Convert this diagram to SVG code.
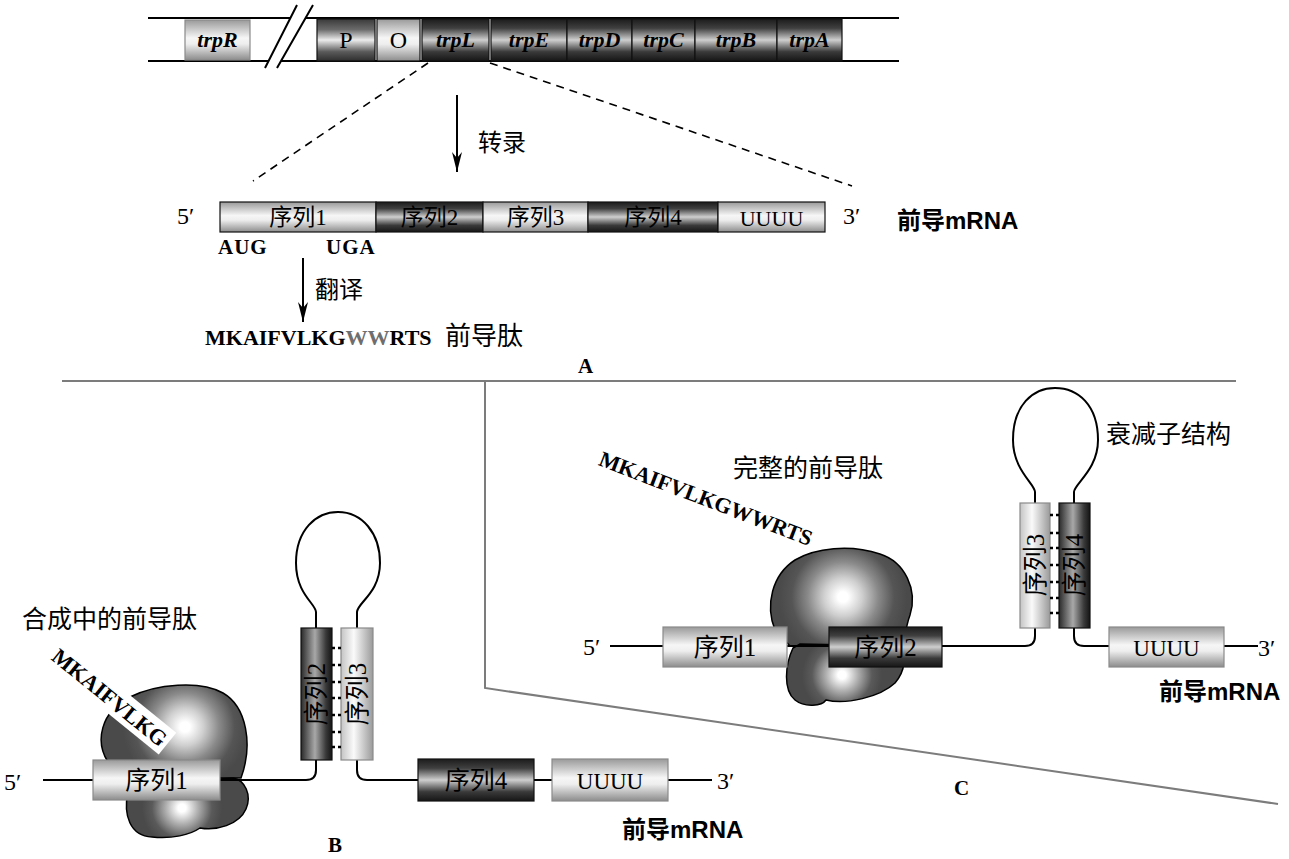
<svg xmlns="http://www.w3.org/2000/svg" width="1289" height="859" viewBox="0 0 1289 859">
  <defs>
    <!-- vertical shading for horizontal bars -->
    <linearGradient id="gDark" x1="0" y1="0" x2="0" y2="1">
      <stop offset="0" stop-color="#1c1c1c"/>
      <stop offset="0.22" stop-color="#404040"/>
      <stop offset="0.5" stop-color="#cfcfcf"/>
      <stop offset="0.78" stop-color="#3a3a3a"/>
      <stop offset="1" stop-color="#161616"/>
    </linearGradient>
    <linearGradient id="gMid" x1="0" y1="0" x2="0" y2="1">
      <stop offset="0" stop-color="#3a3a3a"/>
      <stop offset="0.25" stop-color="#6a6a6a"/>
      <stop offset="0.5" stop-color="#ececec"/>
      <stop offset="0.78" stop-color="#5a5a5a"/>
      <stop offset="1" stop-color="#2e2e2e"/>
    </linearGradient>
    <linearGradient id="gLight" x1="0" y1="0" x2="0" y2="1">
      <stop offset="0" stop-color="#9a9a9a"/>
      <stop offset="0.45" stop-color="#f6f6f6"/>
      <stop offset="0.6" stop-color="#eeeeee"/>
      <stop offset="1" stop-color="#8c8c8c"/>
    </linearGradient>
    <!-- horizontal shading for the upright stem segments -->
    <linearGradient id="gDarkH" x1="0" y1="0" x2="1" y2="0">
      <stop offset="0" stop-color="#2a2a2a"/>
      <stop offset="0.45" stop-color="#a8a8a8"/>
      <stop offset="0.8" stop-color="#3a3a3a"/>
      <stop offset="1" stop-color="#141414"/>
    </linearGradient>
    <linearGradient id="gLightH" x1="0" y1="0" x2="1" y2="0">
      <stop offset="0" stop-color="#c4c4c4"/>
      <stop offset="0.4" stop-color="#fafafa"/>
      <stop offset="1" stop-color="#9a9a9a"/>
    </linearGradient>
    <!-- ribosome shading: bright core fading to dark grey -->
    <radialGradient id="rbBL" gradientUnits="userSpaceOnUse" cx="185" cy="727" r="62">
      <stop offset="0" stop-color="#ffffff"/>
      <stop offset="0.08" stop-color="#ffffff"/>
      <stop offset="0.3" stop-color="#cfcfcf"/>
      <stop offset="0.55" stop-color="#8a8a8a"/>
      <stop offset="0.8" stop-color="#555555"/>
      <stop offset="1" stop-color="#4a4a4a"/>
    </radialGradient>
    <radialGradient id="rbBS" gradientUnits="userSpaceOnUse" cx="182" cy="808" r="40">
      <stop offset="0" stop-color="#ffffff"/>
      <stop offset="0.1" stop-color="#ffffff"/>
      <stop offset="0.4" stop-color="#b0b0b0"/>
      <stop offset="0.75" stop-color="#5a5a5a"/>
      <stop offset="1" stop-color="#4a4a4a"/>
    </radialGradient>
    <radialGradient id="rbCL" gradientUnits="userSpaceOnUse" cx="843" cy="597" r="64">
      <stop offset="0" stop-color="#ffffff"/>
      <stop offset="0.08" stop-color="#ffffff"/>
      <stop offset="0.3" stop-color="#cfcfcf"/>
      <stop offset="0.55" stop-color="#8a8a8a"/>
      <stop offset="0.8" stop-color="#555555"/>
      <stop offset="1" stop-color="#4a4a4a"/>
    </radialGradient>
    <radialGradient id="rbCS" gradientUnits="userSpaceOnUse" cx="842" cy="675" r="40">
      <stop offset="0" stop-color="#ffffff"/>
      <stop offset="0.1" stop-color="#ffffff"/>
      <stop offset="0.4" stop-color="#b0b0b0"/>
      <stop offset="0.75" stop-color="#5a5a5a"/>
      <stop offset="1" stop-color="#4a4a4a"/>
    </radialGradient>
    <marker id="arr" viewBox="0 0 20 10" refX="20" refY="5" markerWidth="20" markerHeight="10" markerUnits="userSpaceOnUse" orient="auto">
      <path d="M0,0 L20,5 L0,10 L6,5 Z" fill="#000"/>
    </marker>
    <style>
      .ln { stroke:#000; stroke-width:2; fill:none; }
      .dv { stroke:#7c7c7c; stroke-width:2; fill:none; }
      .dash { stroke:#000; stroke-width:1.6; stroke-dasharray:8 6; fill:none; }
      .dot { stroke:#000; stroke-width:2.5; stroke-dasharray:3 3; }
      .bx { stroke:#111; stroke-width:1.2; }
      .bxl { stroke:#8a8a8a; stroke-width:1.2; }
      .gene { font: italic bold 22px "Liberation Serif", serif; fill:#000; }
      .gl { font: 24px "Liberation Serif", serif; fill:#000; }
      .seq { font: 23px "Liberation Serif", "Noto Sans CJK SC", sans-serif; fill:#000; }
      .seqB { font: 25px "Liberation Serif", "Noto Sans CJK SC", sans-serif; fill:#000; }
      .end { font: 24px "Liberation Serif", serif; fill:#000; }
      .cd { font: bold 21px "Liberation Serif", serif; fill:#000; letter-spacing:1px; }
      .pep { font: bold 22px "Liberation Serif", serif; fill:#000; }
      .cjk { font: 25px "Noto Sans CJK SC", sans-serif; fill:#000; }
      .mr { font: bold 24px "Liberation Sans", "Noto Sans CJK SC", sans-serif; fill:#000; }
      .pl { font: bold 21px "Liberation Serif", serif; fill:#000; }
    </style>
  </defs>

  <!-- ===== Panel A: trp operon ===== -->
  <g id="operon">
    <path class="ln" d="M148,18 H290 M305,18 H899 M148,61 H268 M281,61 H899"/>
    <path class="ln" d="M265,68 L297,5 M277,68 L313,5"/>
    <rect x="185" y="20" width="65" height="40" fill="url(#gLight)" class="bxl"/>
    <text class="gene" x="217.5" y="47" text-anchor="middle">trpR</text>
    <rect x="317" y="19" width="58" height="42" fill="url(#gMid)" class="bx"/>
    <text class="gl" x="346" y="48" text-anchor="middle">P</text>
    <rect x="377" y="19" width="43" height="42" fill="url(#gLight)" class="bx"/>
    <text class="gl" x="398.5" y="48" text-anchor="middle">O</text>
    <rect x="422" y="19" width="67" height="42" fill="url(#gDark)" class="bx"/>
    <text class="gene" x="455.5" y="47" text-anchor="middle">trpL</text>
    <rect x="491" y="19" width="76" height="42" fill="url(#gDark)" class="bx"/>
    <text class="gene" x="529" y="47" text-anchor="middle">trpE</text>
    <rect x="567" y="19" width="65" height="42" fill="url(#gDark)" class="bx"/>
    <text class="gene" x="599.5" y="47" text-anchor="middle">trpD</text>
    <rect x="632" y="19" width="63" height="42" fill="url(#gDark)" class="bx"/>
    <text class="gene" x="663.5" y="47" text-anchor="middle">trpC</text>
    <rect x="695" y="19" width="82" height="42" fill="url(#gDark)" class="bx"/>
    <text class="gene" x="736" y="47" text-anchor="middle">trpB</text>
    <rect x="777" y="19" width="65" height="42" fill="url(#gDark)" class="bx"/>
    <text class="gene" x="809.5" y="47" text-anchor="middle">trpA</text>
  </g>

  <g id="connectors">
    <path class="dash" d="M428,63 L253,181"/>
    <path class="dash" d="M490,63 L852,186"/>
    <line class="ln" x1="457" y1="95" x2="457" y2="172" marker-end="url(#arr)"/>
    <line class="ln" x1="303" y1="258" x2="303" y2="322" marker-end="url(#arr)"/>
  </g>

  <g id="label-transcription">
    <text class="cjk" x="478" y="151" style="font-size:24px">转录</text>
  </g>

  <!-- leader mRNA, linear form -->
  <g id="leader-mrna">
    <text class="end" x="177" y="224">5′</text>
    <rect x="220" y="202" width="156" height="30" fill="url(#gLight)" class="bx"/>
    <text class="seq" x="298" y="225" text-anchor="middle">序列1</text>
    <rect x="376" y="202" width="107" height="30" fill="url(#gDark)" class="bx"/>
    <text class="seq" x="429.5" y="225" text-anchor="middle">序列2</text>
    <rect x="483" y="202" width="105" height="30" fill="url(#gLight)" class="bx"/>
    <text class="seq" x="535.5" y="225" text-anchor="middle">序列3</text>
    <rect x="588" y="202" width="130" height="30" fill="url(#gDark)" class="bx"/>
    <text class="seq" x="653" y="225" text-anchor="middle">序列4</text>
    <rect x="718" y="202" width="107" height="30" fill="url(#gLight)" class="bx"/>
    <text class="end" x="771.5" y="226" text-anchor="middle" style="font-size:22px">UUUU</text>
    <text class="end" x="843" y="224">3′</text>
    <text class="mr" x="897" y="229">前导mRNA</text>
    <text class="cd" x="218" y="254">AUG</text>
    <text class="cd" x="326" y="254">UGA</text>
  </g>

  <g id="leader-peptide">
    <text class="cjk" x="315" y="298" style="font-size:24px">翻译</text>
    <text class="pep" x="205" y="345">MKAIFVLKG<tspan fill="#6e6e6e">WW</tspan>RTS</text>
    <text class="cjk" x="445" y="345" style="font-size:26px">前导肽</text>
    <text class="pl" x="578" y="373">A</text>
  </g>

  <!-- panel dividers -->
  <g id="dividers">
    <path class="dv" d="M62,381 H1236"/>
    <path class="dv" d="M485,381 V688 L1278,804"/>
  </g>

  <!-- ===== Panel B: pausing at sequence 1, 2:3 hairpin ===== -->
  <g id="panelB">
    <text class="cjk" x="22" y="628">合成中的前导肽</text>
    <path class="ln" d="M43,780 H93 M220,780 H306 Q316,780 316,770 V760"/>
    <path class="ln" d="M357,760 V770 Q357,780 367,780 H418 M534,780 H552 M668,780 H712"/>
    <!-- ribosome -->
    <path d="M108,762 C95,742 100,712 130,697 C156,684 200,680 223,693 C247,707 253,745 241,778 L108,778 Z" fill="url(#rbBL)" stroke="#000" stroke-width="1.5"/>
    <path d="M128,792 C123,815 130,836 152,837 C172,839 190,835 200,828 C216,831 239,825 246,809 C252,795 245,780 233,778 L128,786 Z" fill="url(#rbBS)" stroke="#000" stroke-width="1.5"/>
    <path class="ln" d="M220,780 H306"/>
    <!-- nascent peptide -->
    <g transform="translate(110,697) rotate(39)">
      <rect x="-74" y="-14" width="148" height="28" fill="#fff"/>
      <text class="pep" x="0" y="8" text-anchor="middle">MKAIFVLKG</text>
    </g>
    <rect x="93" y="760" width="127" height="40" fill="url(#gLight)" class="bxl"/>
    <text class="seqB" x="156.5" y="789" text-anchor="middle">序列1</text>
    <!-- 2:3 pause hairpin -->
    <path class="ln" d="M316,628 V612 C316,604 296,594 296,563 C296,530 316,512 338,512 C362,512 380,533 380,563 C380,593 357,603 357,612 V628"/>
    <rect x="301" y="628" width="31" height="132" fill="url(#gDarkH)" class="bx"/>
    <rect x="341" y="628" width="32" height="132" fill="url(#gLightH)" class="bxl"/>
    <g class="dot">
      <line x1="332" y1="648" x2="341" y2="648"/>
      <line x1="332" y1="665" x2="341" y2="665"/>
      <line x1="332" y1="682" x2="341" y2="682"/>
      <line x1="332" y1="698" x2="341" y2="698"/>
      <line x1="332" y1="715" x2="341" y2="715"/>
      <line x1="332" y1="732" x2="341" y2="732"/>
      <line x1="332" y1="747" x2="341" y2="747"/>
    </g>
    <text class="seqB" transform="translate(325,694) rotate(-90)" text-anchor="middle">序列2</text>
    <text class="seqB" transform="translate(366,694) rotate(-90)" text-anchor="middle">序列3</text>
    <text class="end" x="4" y="790">5′</text>
    <rect x="418" y="759" width="116" height="42" fill="url(#gDark)" class="bx"/>
    <text class="seqB" x="476" y="789" text-anchor="middle">序列4</text>
    <rect x="552" y="759" width="116" height="42" fill="url(#gLight)" class="bxl"/>
    <text class="end" x="610" y="789" text-anchor="middle" style="font-size:23px">UUUU</text>
    <text class="end" x="717" y="789">3′</text>
    <text class="mr" x="622" y="838">前导mRNA</text>
    <text class="pl" x="328" y="852">B</text>
  </g>

  <!-- ===== Panel C: ribosome past sequence 2, 3:4 terminator ===== -->
  <g id="panelC">
    <text class="cjk" x="733" y="477">完整的前导肽</text>
    <g transform="translate(706,498) rotate(21)">
      <text class="pep" x="0" y="8" text-anchor="middle">MKAIFVLKGWWRTS</text>
    </g>
    <path d="M775,630 C765,605 772,575 795,560 C815,548 850,544 880,554 C905,562 918,590 910,615 C906,626 905,636 903,646 L790,646 Z" fill="url(#rbCL)" stroke="#000" stroke-width="1.5"/>
    <path d="M793,648 C785,665 783,690 795,700 C805,708 822,706 826,700 C846,705 880,697 895,683 C906,670 906,656 900,646 L800,644 Z" fill="url(#rbCS)" stroke="#000" stroke-width="1.5"/>
    <path class="ln" d="M610,646 H663 M787,646 H829"/>
    <path class="ln" d="M942,646 H1025 Q1035,646 1035,636 V628"/>
    <path class="ln" d="M1074,628 V636 Q1074,646 1084,646 H1109 M1224,646 H1258"/>
    <rect x="663" y="627" width="124" height="40" fill="url(#gLight)" class="bxl"/>
    <text class="seqB" x="725" y="656" text-anchor="middle">序列1</text>
    <rect x="829" y="627" width="113" height="40" fill="url(#gDark)" class="bx"/>
    <text class="seqB" x="885.5" y="656" text-anchor="middle">序列2</text>
    <text class="end" x="583" y="655">5′</text>
    <!-- 3:4 terminator hairpin -->
    <path class="ln" d="M1035,503 V492 C1035,484 1013,470 1013,440 C1013,405 1033,388 1055,388 C1078,388 1098,405 1098,440 C1098,470 1074,484 1074,492 V503"/>
    <rect x="1020" y="503" width="30" height="125" fill="url(#gLightH)" class="bxl"/>
    <rect x="1059" y="503" width="31" height="125" fill="url(#gDarkH)" class="bx"/>
    <g class="dot">
      <line x1="1050" y1="515" x2="1059" y2="515"/>
      <line x1="1050" y1="533" x2="1059" y2="533"/>
      <line x1="1050" y1="548" x2="1059" y2="548"/>
      <line x1="1050" y1="565" x2="1059" y2="565"/>
      <line x1="1050" y1="582" x2="1059" y2="582"/>
      <line x1="1050" y1="598" x2="1059" y2="598"/>
      <line x1="1050" y1="613" x2="1059" y2="613"/>
    </g>
    <text class="seqB" transform="translate(1044,565) rotate(-90)" text-anchor="middle">序列3</text>
    <text class="seqB" transform="translate(1083,565) rotate(-90)" text-anchor="middle">序列4</text>
    <text class="cjk" x="1106" y="443">衰减子结构</text>
    <rect x="1109" y="627" width="115" height="40" fill="url(#gLight)" class="bxl"/>
    <text class="end" x="1166.5" y="656" text-anchor="middle" style="font-size:23px">UUUU</text>
    <text class="end" x="1258" y="656">3′</text>
    <text class="mr" x="1159" y="700">前导mRNA</text>
    <text class="pl" x="954" y="795">C</text>
  </g>
</svg>
